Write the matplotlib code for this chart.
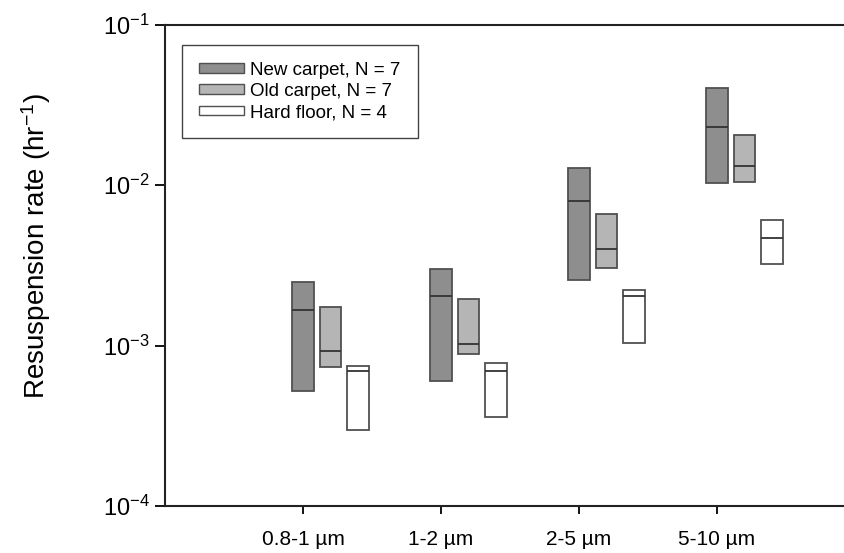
import numpy as np
import matplotlib
matplotlib.use('Agg')
from matplotlib import pyplot as plt
from matplotlib.patches import Rectangle

plt.rcParams['font.family'] = ['Liberation Sans', 'DejaVu Sans']
plt.rcParams['mathtext.fontset'] = 'custom'
plt.rcParams['mathtext.rm'] = 'Liberation Sans'
plt.rcParams['mathtext.it'] = 'Liberation Sans:italic'

# size fractions
categories = ['0.8-1 µm', '1-2 µm', '2-5 µm', '5-10 µm']

# box = (bottom, median, top) of the resuspension rate, hr^-1
new_low = [5.2e-4, 6.0e-4, 2.57e-3, 1.035e-2]
new_med = [1.67e-3, 2.03e-3, 8.0e-3, 2.30e-2]
new_high = [2.48e-3, 3.0e-3, 1.28e-2, 4.06e-2]

old_low = [7.4e-4, 8.9e-4, 3.05e-3, 1.05e-2]
old_med = [9.3e-4, 1.02e-3, 4.0e-3, 1.31e-2]
old_high = [1.75e-3, 1.96e-3, 6.6e-3, 2.05e-2]

hard_low = [2.96e-4, 3.58e-4, 1.04e-3, 3.23e-3]
hard_med = [6.95e-4, 6.95e-4, 2.05e-3, 4.69e-3]
hard_high = [7.43e-4, 7.83e-4, 2.22e-3, 6.08e-3]

series = [
    ('New carpet, N = 7', new_low, new_med, new_high, '#8e8e8e'),
    ('Old carpet, N = 7', old_low, old_med, old_high, '#b5b5b5'),
    ('Hard floor, N = 4', hard_low, hard_med, hard_high, '#ffffff'),
]

edge = '#505050'
w = 0.157
offset = 0.2

fig = plt.figure(figsize=(8.44, 5.53), dpi=100)
ax = fig.add_axes([165 / 844, 47 / 553, 679 / 844, 481.3 / 553])

x = np.arange(1, len(categories) + 1)
handles = []
for i, (name, lo, med, hi, col) in enumerate(series):
    xs = x + i * offset
    lo = np.array(lo)
    hi = np.array(hi)
    ax.bar(xs, hi - lo, bottom=lo, width=w, color=col, edgecolor=edge,
           linewidth=1.3, zorder=2)
    ax.hlines(med, xs - w / 2, xs + w / 2, color='#333333', linewidth=1.3, zorder=3)
    handles.append(Rectangle((0, 0), 1, 1, facecolor=col, edgecolor=edge, linewidth=1.0))

ax.set_yscale('log')
ax.set_ylim(1e-4, 1e-1)
ax.set_xlim(0, 679 / 138)
ax.set_yticks([1e-4, 1e-3, 1e-2, 1e-1])
ax.set_yticklabels([r'$\mathregular{10^{-4}}$', r'$\mathregular{10^{-3}}$',
                    r'$\mathregular{10^{-2}}$', r'$\mathregular{10^{-1}}$'], fontsize=17)
ax.yaxis.set_minor_locator(matplotlib.ticker.NullLocator())
ax.set_xticks(x)
ax.set_xticklabels(categories, fontsize=15)
ax.tick_params(axis='y', direction='out', length=7, width=1.3, pad=4)
ax.tick_params(axis='x', direction='out', length=6, width=1.3, pad=11)

ax.spines['right'].set_visible(False)
for s in ['left', 'bottom', 'top']:
    ax.spines[s].set_linewidth(1.5)
    ax.spines[s].set_color('#222222')

ax.set_ylabel(r'Resuspension rate (hr$^{-1}$)', fontsize=20)
ax.yaxis.set_label_coords(-0.165, 0.54)

leg = ax.legend(handles, [s[0] for s in series], loc='upper left',
                bbox_to_anchor=(0.025, 0.958), borderaxespad=0, fontsize=13.5,
                handlelength=2.4, handleheight=0.4, handletextpad=0.35,
                labelspacing=0.22, fancybox=False, framealpha=1,
                borderpad=0.9)
leg.get_frame().set_edgecolor('#444444')
leg.get_frame().set_linewidth(1.0)

plt.savefig('out.png', dpi=100)
